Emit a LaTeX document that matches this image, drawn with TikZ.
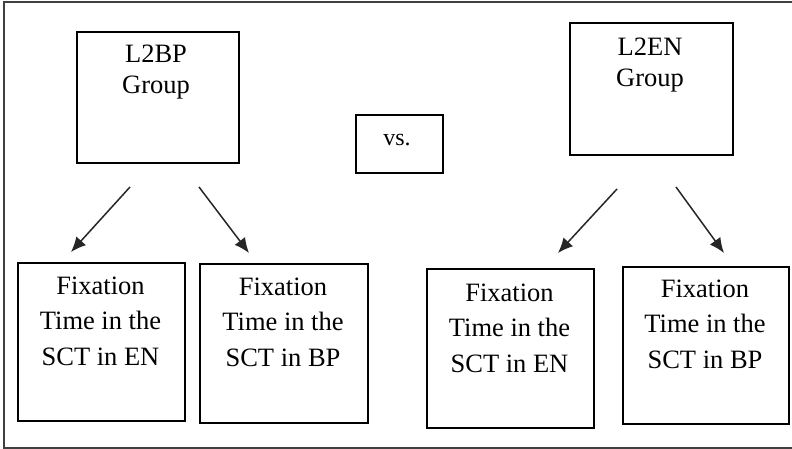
\documentclass[tikz,border=0pt]{standalone}
\usepackage{fontspec}
\setmainfont{Liberation Serif}
\usetikzlibrary{arrows.meta}
\begin{document}
\begin{tikzpicture}[x=1pt,y=-1pt,
  box/.style={draw=black, line width=1.7pt, rectangle, inner sep=0pt, anchor=north west},
  uptext/.style={anchor=base, align=center, inner sep=0pt, font=\fontsize{26.5}{31.5}\selectfont},
  lowtext/.style={anchor=base, align=center, inner sep=0pt, font=\fontsize{26.5}{35.5}\selectfont},
  arr/.style={line width=1.5pt, draw=black!85, -{Latex[length=15pt,width=13pt]}}]
\useasboundingbox (0,0) rectangle (792,449);
\fill[white] (0,0) rectangle (792,449);
% outer frame (right side runs past the edge)
\draw[line width=1.6pt, black!75] (800,2) -- (4,2) -- (4,448) -- (800,448);
% group boxes
\node[box, minimum width=162pt, minimum height=131pt] (bp) at (76,31) {};
\node[uptext] (bpt) at (156,94) {L2BP\\Group};
\node[box, minimum width=163pt, minimum height=132pt] (en) at (569,22) {};
\node[uptext] (ent) at (650,87) {L2EN\\Group};
\node[box, minimum width=87pt, minimum height=58pt] (vs) at (355,114) {};
\node[anchor=base, inner sep=0pt, font=\fontsize{24}{30}\selectfont] (vst) at (397,146) {vs.};
% result boxes
\node[box, minimum width=167pt, minimum height=158pt] (r1) at (17,262) {};
\node[lowtext] (r1t) at (100.5,365) {Fixation\\Time in the\\SCT in EN};
\node[box, minimum width=168pt, minimum height=159pt] (r2) at (199,263) {};
\node[lowtext] (r2t) at (283,366) {Fixation\\Time in the\\SCT in BP};
\node[box, minimum width=167pt, minimum height=159pt] (r3) at (426,268) {};
\node[lowtext] (r3t) at (509.5,372) {Fixation\\Time in the\\SCT in EN};
\node[box, minimum width=166pt, minimum height=157pt] (r4) at (622,266) {};
\node[lowtext] (r4t) at (705,368) {Fixation\\Time in the\\SCT in BP};
% arrows
\coordinate (a1s) at (130,187); \coordinate (a1e) at (71,252);
\coordinate (a2s) at (199,187); \coordinate (a2e) at (249,253);
\coordinate (a3s) at (617,189); \coordinate (a3e) at (558,253);
\coordinate (a4s) at (676,187); \coordinate (a4e) at (724,253);
\draw[arr] (a1s) -- (a1e);
\draw[arr] (a2s) -- (a2e);
\draw[arr] (a3s) -- (a3e);
\draw[arr] (a4s) -- (a4e);
\end{tikzpicture}
\end{document}
